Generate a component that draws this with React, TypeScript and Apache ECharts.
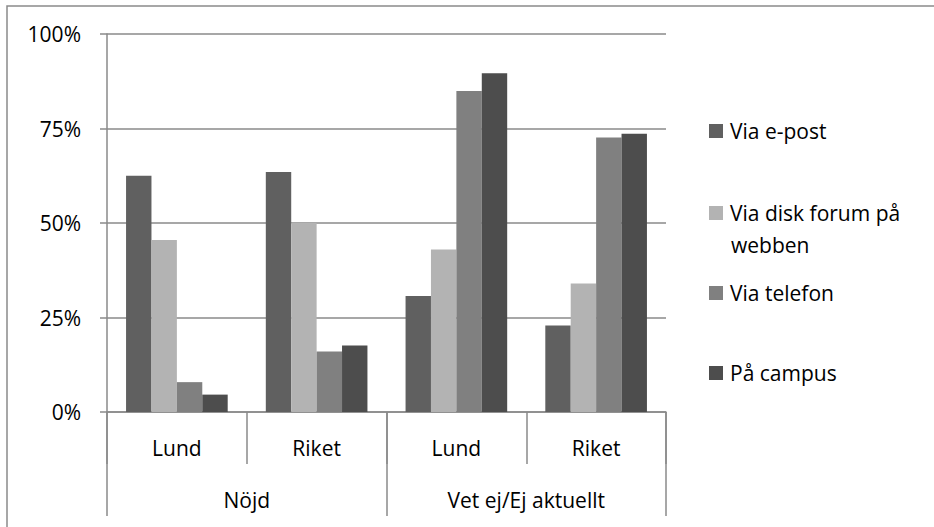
import React, { useEffect, useRef } from "react";
import * as echarts from "echarts";

const subCategories = ["Lund", "Riket", "Lund", "Riket"];
const groupCategories = ["Nöjd", "Vet ej/Ej aktuellt"];
const yTicks = [0, 25, 50, 75, 100];

const seriesNames = ["Via e-post", "Via disk forum på webben", "Via telefon", "På campus"];
const seriesColors = ["#606060", "#b3b3b3", "#808080", "#4d4d4d"];

const viaEpost = [62.5, 63.5, 30.7, 22.9];
const viaDiskForum = [45.5, 50, 43, 34];
const viaTelefon = [7.9, 16, 84.9, 72.6];
const paCampus = [4.6, 17.6, 89.6, 73.6];

const seriesValues = [viaEpost, viaDiskForum, viaTelefon, paCampus];
const legendCenters = [131, 213, 293, 373];

const FONT = "Open Sans";
const GRAY = "#8a8a8a";

export default function App() {
  const ref = useRef<HTMLDivElement>(null);
  useEffect(() => {
    if (!ref.current) return;
    const chart = echarts.init(ref.current, undefined, { renderer: "svg" });
    const legends = seriesNames.map((name, i) => ({
      show: true,
      orient: "vertical",
      left: 709,
      top: legendCenters[i] - 12,
      padding: 0,
      icon: "rect",
      itemWidth: 14,
      itemHeight: 14,
      itemGap: 0,
      selectedMode: false,
      data: [name],
      formatter: (n: string) => (n === "Via disk forum på webben" ? "Via disk forum på" : n),
      textStyle: { fontFamily: FONT, fontSize: 21, color: "#000", lineHeight: 24, padding: [0, 0, 0, 2] },
    }));
    chart.setOption({
      animation: false,
      backgroundColor: "#fff",
      textStyle: { fontFamily: FONT },
      grid: { left: 107, top: 34, right: 268, bottom: 115, containLabel: false },
      legend: legends,
      graphic: [
        {
          type: "rect",
          shape: { x: 7, y: 6, width: 2000, height: 2000 },
          style: { fill: "none", stroke: GRAY, lineWidth: 1.5 },
          silent: true,
        },
        {
          type: "text",
          x: 731,
          y: 245,
          style: { text: "webben", fontFamily: FONT, fontSize: 21, fill: "#000", verticalAlign: "middle", align: "left" },
          silent: true,
        },
      ],
      xAxis: [
        {
          type: "category",
          data: subCategories,
          position: "bottom",
          axisLine: { show: true, lineStyle: { color: GRAY, width: 1.5 } },
          axisTick: { show: true, interval: 0, length: 52, lineStyle: { color: GRAY, width: 1.5 } },
          axisLabel: { interval: 0, margin: 24, fontFamily: FONT, fontSize: 21, color: "#000", lineHeight: 24 },
          splitLine: { show: false },
        },
        {
          type: "category",
          data: groupCategories,
          position: "bottom",
          axisLine: { show: false },
          axisTick: { show: true, interval: 0, length: 104, lineStyle: { color: GRAY, width: 1.5 } },
          axisLabel: { interval: 0, margin: 76, fontFamily: FONT, fontSize: 21, color: "#000", lineHeight: 24 },
          splitLine: { show: false },
        },
      ],
      yAxis: {
        type: "value",
        min: 0,
        max: 100,
        interval: 25,
        axisLine: { show: true, lineStyle: { color: GRAY, width: 1.5 } },
        axisTick: { show: true, length: 7, lineStyle: { color: GRAY, width: 1.5 } },
        axisLabel: {
          margin: 26,
          fontFamily: FONT,
          fontSize: 21,
          color: "#000",
          formatter: (v: number) => (yTicks.includes(v) ? v + "%" : ""),
        },
        splitLine: { show: true, lineStyle: { color: GRAY, width: 1.5 } },
      },
      series: seriesNames.map((name, i) => ({
        name,
        type: "bar",
        xAxisIndex: 0,
        data: seriesValues[i],
        barGap: "0%",
        barCategoryGap: "27.27%",
        itemStyle: { color: seriesColors[i] },
      })),
    });
    return () => chart.dispose();
  }, []);
  return <div ref={ref} style={{ width: 934, height: 527, position: "absolute", left: 0, top: 0 }} />;
}
